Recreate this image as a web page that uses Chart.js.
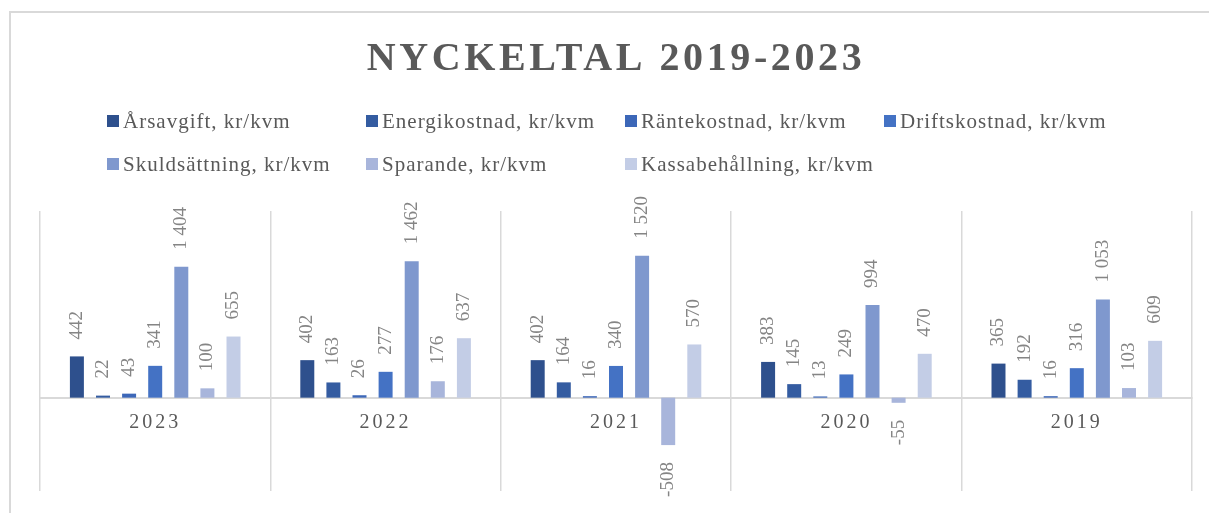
<!DOCTYPE html>
<html>
<head>
<meta charset="utf-8">
<script src="https://cdn.jsdelivr.net/npm/chart.js@4/dist/chart.umd.min.js"></script>
<style>
    html, body { margin: 0; padding: 0; background: #fff; }
    #wrap { position: relative; width: 1209px; height: 513px; }
</style>
</head>
<body>
<div id="wrap"><canvas id="nyckeltal"></canvas></div>
<script>
const years = ["2023", "2022", "2021", "2020", "2019"];
const seriesNames = [
    "Årsavgift, kr/kvm",
    "Energikostnad, kr/kvm",
    "Räntekostnad, kr/kvm",
    "Driftskostnad, kr/kvm",
    "Skuldsättning, kr/kvm",
    "Sparande, kr/kvm",
    "Kassabehållning, kr/kvm",
];
const arsavgift = [442, 402, 402, 383, 365];
const energikostnad = [22, 163, 164, 145, 192];
const rantekostnad = [43, 26, 16, 13, 16];
const driftskostnad = [341, 277, 340, 249, 316];
const skuldsattning = [1404, 1462, 1520, 994, 1053];
const sparande = [100, 176, -508, -55, 103];
const kassabehallning = [655, 637, 570, 470, 609];
const seriesColors = ["#2e508d", "#345ca1", "#3c67b8", "#4472c4", "#7f98ce", "#a8b5db", "#c3cde6"];

const seriesValues = [arsavgift, energikostnad, rantekostnad, driftskostnad, skuldsattning, sparande, kassabehallning];

const SERIF = '"Liberation Serif", "DejaVu Serif", serif';

function fmt(v) {
    const s = Math.abs(v).toString().replace(/\B(?=(\d{3})+(?!\d))/g, " ");
    return (v < 0 ? "-" : "") + s;
}

// frame, title, legend and value labels
const decorations = {
    id: "decorations",
    beforeDraw(chart) {
        const ctx = chart.ctx;
        ctx.save();
        ctx.strokeStyle = "#d9d9d9";
        ctx.lineWidth = 2;
        ctx.beginPath();
        ctx.moveTo(10, chart.height);
        ctx.lineTo(10, 12);
        ctx.lineTo(chart.width, 12);
        ctx.stroke();
        ctx.restore();
        // category ticks are letter spaced
        ctx.letterSpacing = "3px";
    },
    beforeDatasetsDraw(chart) {
        chart.ctx.letterSpacing = "0px";
    },
    afterDatasetsDraw(chart) {
        const ctx = chart.ctx;
        ctx.save();
        ctx.letterSpacing = "0px";
        ctx.font = "19px " + SERIF;
        ctx.fillStyle = "#858585";
        ctx.textBaseline = "middle";
        chart.data.datasets.forEach((ds, i) => {
            chart.getDatasetMeta(i).data.forEach((bar, j) => {
                const v = ds.data[j];
                const neg = v < 0;
                ctx.save();
                ctx.translate(bar.x, neg ? bar.y + 17 : bar.y - 17);
                ctx.rotate(-Math.PI / 2);
                ctx.textAlign = neg ? "right" : "left";
                ctx.fillText(fmt(v), 0, 0);
                ctx.restore();
            });
        });
        ctx.restore();
    },
    afterDraw(chart) {
        const ctx = chart.ctx;
        const area = chart.chartArea;
        ctx.save();
        // title
        ctx.letterSpacing = "3.6px";
        ctx.font = "bold 40px " + SERIF;
        ctx.fillStyle = "#595959";
        ctx.textAlign = "center";
        ctx.textBaseline = "alphabetic";
        ctx.fillText("NYCKELTAL 2019-2023", (area.left + area.right) / 2, 70);
        // legend
        ctx.letterSpacing = "1px";
        ctx.font = "21px " + SERIF;
        ctx.textAlign = "left";
        ctx.textBaseline = "middle";
        chart.data.datasets.forEach((ds, i) => {
            const col = i % 4, row = Math.floor(i / 4);
            const x = 107 + col * 259;
            const y = 121 + row * 43;
            ctx.fillStyle = ds.backgroundColor;
            ctx.fillRect(x, y - 6, 12, 12);
            ctx.fillStyle = "#595959";
            ctx.fillText(ds.label, x + 16, y + 1);
        });
        ctx.restore();
    }
};

new Chart(document.getElementById("nyckeltal"), {
    type: "bar",
    data: {
        labels: years,
        datasets: seriesNames.map((name, i) => ({
            label: name,
            data: seriesValues[i],
            backgroundColor: seriesColors[i],
            borderWidth: 0,
            categoryPercentage: 0.793,
            barPercentage: 0.536,
        })),
    },
    options: {
        responsive: true,
        maintainAspectRatio: false,
        animation: false,
        layout: { padding: { left: 40, right: 17, top: 211, bottom: 22 } },
        plugins: {
            legend: { display: false },
            title: { display: false },
            tooltip: { enabled: false },
        },
        scales: {
            x: {
                position: { y: 0 },
                grid: { offset: true, color: "#d9d9d9", lineWidth: 1.5, drawTicks: false },
                border: { color: "#d9d9d9", width: 2 },
                ticks: {
                    color: "#595959",
                    font: { family: SERIF, size: 20 },
                    padding: 13,
                },
            },
            y: {
                display: false,
                min: -1000,
                max: 2000,
            },
        },
    },
    plugins: [decorations],
});
</script>
</body>
</html>
